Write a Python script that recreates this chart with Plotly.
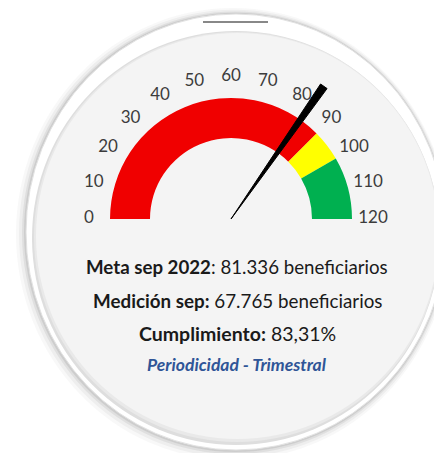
import plotly.graph_objects as go

# datos del velocimetro
escala_min = 0
escala_max = 120
ticks_valores = [0, 10, 20, 30, 40, 50, 60, 70, 80, 90, 100, 110, 120]
ticks_texto = ["0", "10", "20", "30", "40", "50", "60", "70", "80", "90", "100", "110", "120"]
rangos_desde = [0, 90, 100]
rangos_hasta = [90, 100, 120]
rangos_colores = ["#F00000", "#FFFF00", "#00B050"]
cumplimiento = 83.31

meta_texto = "81.336 beneficiarios"
medicion_texto = "67.765 beneficiarios"
cumplimiento_texto = "83,31%"

# la pagina tiene 8px de margen en el body
OFF = 8
W, H = 442 - OFF, 453 - OFF
GRADOS = 180 / (escala_max - escala_min)  # grados por unidad
R_INT, R_EXT, R_TXT, R_MAX = 81, 121, 142, 166
LARGO_AGUJA = 162


def px(x):
    return (x - OFF) / W


def py(y):
    return 1 - (y - OFF) / H


def elipse(x0, x1, y0, y1, relleno, linea=None):
    return dict(type="circle", xref="paper", yref="paper", layer="below",
                x0=px(x0), x1=px(x1), y0=py(y0), y1=py(y1), fillcolor=relleno,
                line=linea or dict(width=0))


fig = go.Figure()

# arco de colores
fig.add_trace(go.Barpolar(
    theta=[(a + b) / 2 * GRADOS for a, b in zip(rangos_desde, rangos_hasta)],
    width=[(b - a) * GRADOS for a, b in zip(rangos_desde, rangos_hasta)],
    r=[R_EXT - R_INT] * len(rangos_desde),
    base=[R_INT] * len(rangos_desde),
    marker=dict(color=rangos_colores, line=dict(width=0)),
    hoverinfo="skip",
))

# etiquetas de la escala
fig.add_trace(go.Scatterpolar(
    r=[R_TXT] * len(ticks_valores),
    theta=[v * GRADOS for v in ticks_valores],
    text=ticks_texto, mode="text", textposition="middle center",
    textfont=dict(family="Lato", size=17, color="#3c3c3c"),
    cliponaxis=False, hoverinfo="skip",
))

# aguja
t = cumplimiento * GRADOS
fig.add_trace(go.Scatterpolar(
    r=[0, LARGO_AGUJA, LARGO_AGUJA, 0],
    theta=[t, t - 1.4, t + 1.4, t],
    mode="lines", fill="toself", fillcolor="black",
    line=dict(color="black", width=1),
    hoverinfo="skip",
))

cx, cy = 231, 219
fig.update_layout(
    width=W, height=H,
    margin=dict(l=0, r=0, t=0, b=0),
    paper_bgcolor="white",
    showlegend=False,
    polar=dict(
        domain=dict(x=[px(cx - R_MAX), px(cx + R_MAX)], y=[py(cy), py(cy - R_MAX)]),
        sector=[0, 180],
        bgcolor="rgba(0,0,0,0)",
        radialaxis=dict(range=[0, R_MAX], visible=False),
        angularaxis=dict(
            direction="clockwise", rotation=180,
            showticklabels=False, showgrid=False, showline=False, ticks="",
        ),
    ),
)

# placa circular con sombra
formas = []
for d, op in [(10, 0.04), (7, 0.06), (4, 0.09), (2, 0.12)]:
    formas.append(elipse(26 - d, 446 + d * 0.4, 14 - d * 0.6, 450 + d, f"rgba(80,80,80,{op})"))
formas.append(elipse(26, 446, 14, 450, "white", dict(color="#e2e2e2", width=1)))
# sombra interior
formas.append(elipse(32, 440, 31, 445, "#dedede"))
formas.append(elipse(34, 440, 32, 442, "#e9e9e9"))
formas.append(elipse(36, 439, 33, 439, "#F4F4F4"))
formas.append(dict(type="line", xref="paper", yref="paper", layer="below",
                   x0=px(203), x1=px(268), y0=py(22), y1=py(22),
                   line=dict(color="#606060", width=1.5)))
fig.update_layout(shapes=formas)

fuente = "Lato"
textos = [
    (267, f"<b>Meta sep 2022</b>: {meta_texto}", 18.7, "#1a1a1a"),
    (300, f"<b>Medición sep:</b> {medicion_texto}", 18.8, "#1a1a1a"),
    (333, f"<b>Cumplimiento:</b> {cumplimiento_texto}", 19.5, "#1a1a1a"),
    (364, "<b><i>Periodicidad - Trimestral</i></b>", 17.5, "#2F5597"),
]
for y, txt, size, color in textos:
    fig.add_annotation(x=px(237), y=py(y), xref="paper", yref="paper", text=txt,
                       showarrow=False, xanchor="center", yanchor="middle",
                       font=dict(family=fuente, size=size, color=color))

fig.write_html("out.html")
